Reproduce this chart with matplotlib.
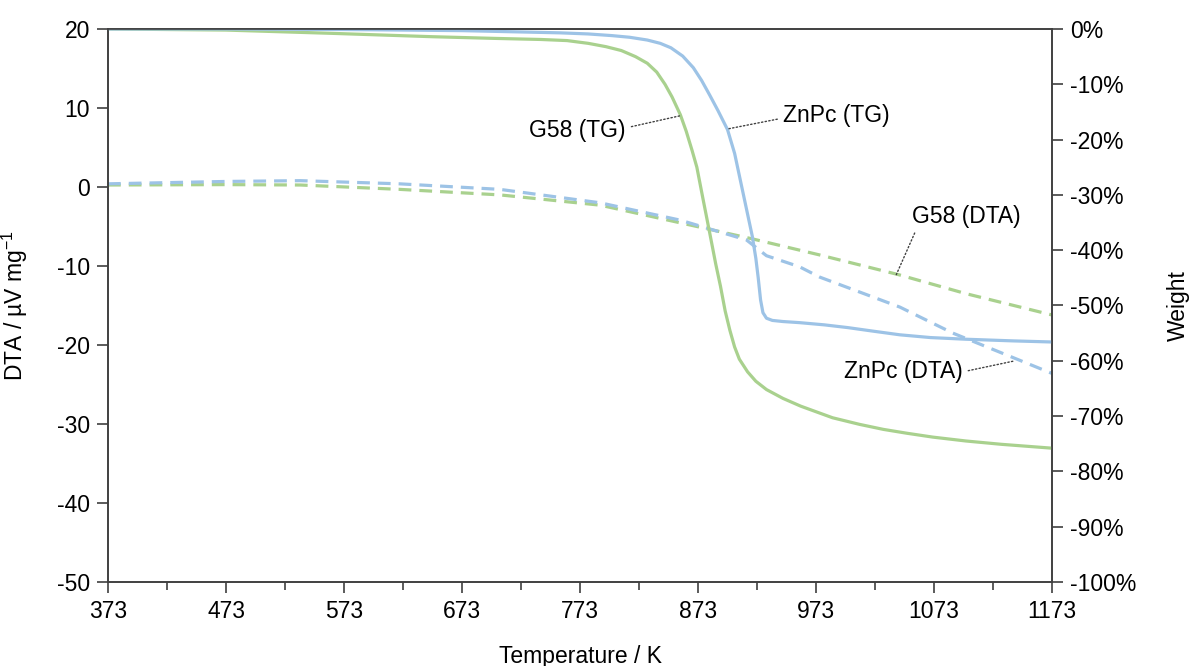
import matplotlib
matplotlib.use('Agg')
import matplotlib.pyplot as plt
from matplotlib.ticker import FixedLocator, MultipleLocator, FuncFormatter

plt.rcParams['font.family'] = ['Liberation Sans', 'DejaVu Sans']
plt.rcParams['mathtext.default'] = 'regular'
plt.rcParams['axes.unicode_minus'] = False

# temperature ticks (K)
x_major = [373, 473, 573, 673, 773, 873, 973, 1073, 1173]
x_minor = [423, 523, 623, 723, 823, 923, 1023, 1123]

# TG curves (weight, %)
g58_tg_T = [373, 473, 564, 648, 700, 740, 762, 780, 795, 808, 820, 830, 838, 845,
            851, 858, 863, 868, 872, 877, 883, 888, 892, 896, 900, 904, 908, 915,
            922, 931, 945, 960, 987, 1010, 1030, 1050, 1072, 1100, 1130, 1173]
g58_tg_w = [0, -0.2, -0.8, -1.4, -1.7, -1.9, -2.1, -2.6, -3.2, -3.9, -5.0, -6.2,
            -7.8, -10.0, -12.3, -15.5, -18.5, -22, -25, -30.5, -37, -42.5, -46.5,
            -51, -54.5, -57.5, -59.7, -62, -63.7, -65.2, -66.8, -68.2, -70.3, -71.5,
            -72.4, -73.1, -73.8, -74.5, -75.1, -75.8]

znpc_tg_T = [373, 473, 573, 673, 756, 780, 800, 815, 830, 841, 850, 860, 869, 876,
             883, 890, 898, 904, 909, 914, 919, 922, 924, 926, 928, 931, 936, 945,
             959, 980, 1000, 1020, 1044, 1070, 1100, 1140, 1173]
znpc_tg_w = [0, 0, -0.1, -0.3, -0.7, -0.9, -1.2, -1.5, -2.0, -2.6, -3.4, -4.9,
             -7.0, -9.3, -12.0, -14.8, -18.2, -22.5, -27.5, -32.5, -37.5, -41.5,
             -45, -49, -51.3, -52.3, -52.7, -52.9, -53.1, -53.5, -54, -54.6, -55.3,
             -55.8, -56.1, -56.4, -56.6]

# DTA curves (uV/mg)
g58_dta_T = [373, 473, 536, 620, 705, 790, 875, 920, 976, 1043, 1100, 1173]
g58_dta_v = [0.25, 0.3, 0.25, -0.3, -1.0, -2.3, -5.1, -6.6, -8.6, -11.1, -13.5, -16.2]

znpc_dta_T = [373, 473, 536, 620, 705, 790, 858, 914, 931, 959, 976, 1044, 1089, 1173]
znpc_dta_v = [0.4, 0.7, 0.8, 0.4, -0.3, -2.0, -4.2, -6.7, -8.7, -10.1, -11.4, -15.2,
              -18.5, -23.6]

green = '#A9D18E'
blue = '#9DC3E6'
axis_col = '#404040'
fs = 16.5

fig = plt.figure(figsize=(11.92, 6.66), dpi=100)
ax = fig.add_axes([0.0906, 0.1261, 0.792, 0.8304])
ax2 = ax.twinx()

ax.plot(g58_dta_T, g58_dta_v, color=green, lw=2.3, dashes=(4, 2.5))
ax.plot(znpc_dta_T, znpc_dta_v, color=blue, lw=2.3, dashes=(4, 2.5))
ax2.plot(g58_tg_T, g58_tg_w, color=green, lw=2.3, solid_joinstyle='round')
ax2.plot(znpc_tg_T, znpc_tg_w, color=blue, lw=2.3, solid_joinstyle='round')

ax.set_xlim(373, 1173)
ax.set_ylim(-50, 20)
ax2.set_ylim(-100, 0)
ax.xaxis.set_major_locator(FixedLocator(x_major))
ax.xaxis.set_minor_locator(FixedLocator(x_minor))
ax.yaxis.set_major_locator(MultipleLocator(10))
ax2.yaxis.set_major_locator(MultipleLocator(10))
ax2.yaxis.set_major_formatter(FuncFormatter(lambda v, p: '%d%%' % round(v)))

for a in (ax, ax2):
    for s in a.spines.values():
        s.set_color(axis_col)
        s.set_linewidth(1.2)
    a.tick_params(which='both', direction='out', colors=axis_col, labelcolor='black',
                  labelsize=fs, width=1.2)
    a.tick_params(which='major', length=8)
    a.tick_params(which='minor', length=6)
ax.tick_params(axis='x', pad=5)
ax.tick_params(axis='y', pad=5)
ax2.tick_params(axis='y', pad=5)
ax.xaxis.set_ticks_position('bottom')

ax.set_xlabel('Temperature / K', fontsize=fs)
ax.xaxis.set_label_coords(0.5, -0.113)
ax.xaxis.label.set_va('top')
ax.set_ylabel('DTA / µV mg$^{-1}$', fontsize=fs)
ax.yaxis.set_label_coords(-0.083, 0.5)
ax2.set_ylabel('Weight', fontsize=fs)
ax2.yaxis.set_label_coords(1.122, 0.5)


def lead(rx, ry):
    return dict(arrowstyle='-', linestyle=':', color='#404040', lw=1.0,
                shrinkA=2, shrinkB=0, relpos=(rx, ry))


ax2.annotate('G58 (TG)', xy=(857.7, -15.7), xytext=(771, -18.3), ha='center', va='center',
             fontsize=fs, arrowprops=lead(1.0, 0.6))
ax2.annotate('ZnPc (TG)', xy=(897.6, -18.1), xytext=(990, -15.7), ha='center', va='center',
             fontsize=fs, arrowprops=lead(0.0, 0.4))
ax.annotate('G58 (DTA)', xy=(1041, -11.1), xytext=(1100, -3.7), ha='center', va='center',
            fontsize=fs, arrowprops=lead(0.05, 0.0))
ax.annotate('ZnPc (DTA)', xy=(1141.6, -22.0), xytext=(1047, -23.4), ha='center', va='center',
            fontsize=fs, arrowprops=lead(1.0, 0.5))

fig.savefig('out.png', dpi=100)
